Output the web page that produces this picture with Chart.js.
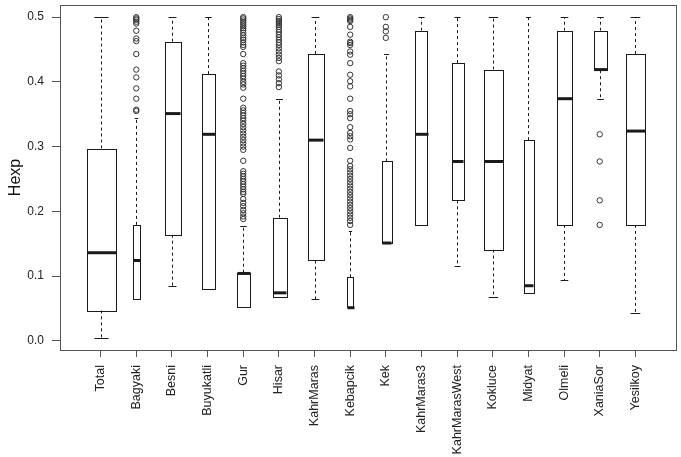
<!DOCTYPE html>
<html>
<head>
<meta charset="utf-8">
<script src="https://cdn.jsdelivr.net/npm/chart.js@4.4.0/dist/chart.umd.min.js"></script>
<style>
  html, body { margin: 0; padding: 0; background: #fff; }
</style>
</head>
<body>
<canvas id="boxchart" width="681" height="457"></canvas>
<script>
// Boxplot summary per population
var categories = ['Total', 'Bagyaki', 'Besni', 'Buyukatli', 'Gur', 'Hisar', 'KahrMaras', 'Kebapcik',
    'Kek', 'KahrMaras3', 'KahrMarasWest', 'Kokluce', 'Midyat', 'Olmeli', 'XaniaSor', 'Yesilkoy'];
var lowerWhisker = [0.004, 0.064, 0.085, 0.080, 0.053, 0.068, 0.064, 0.051, 0.151, 0.179, 0.116, 0.068, 0.073, 0.094, 0.374, 0.043];
var q1           = [0.047, 0.064, 0.164, 0.080, 0.053, 0.068, 0.124, 0.051, 0.151, 0.179, 0.217, 0.141, 0.073, 0.179, 0.418, 0.179];
var median       = [0.136, 0.124, 0.351, 0.319, 0.104, 0.074, 0.310, 0.051, 0.151, 0.319, 0.277, 0.277, 0.085, 0.374, 0.419, 0.324];
var q3           = [0.297, 0.179, 0.462, 0.412, 0.105, 0.190, 0.443, 0.098, 0.277, 0.479, 0.429, 0.419, 0.310, 0.479, 0.479, 0.443];
var upperWhisker = [0.500, 0.344, 0.500, 0.500, 0.178, 0.374, 0.500, 0.170, 0.443, 0.500, 0.500, 0.500, 0.500, 0.500, 0.500, 0.500];
// number of loci per group (box width is proportional to sqrt(n))
var sampleSize   = [1500, 100, 470, 310, 310, 360, 450, 75, 180, 280, 265, 660, 170, 430, 325, 680];

var outliers = [
    [],
    [0.500, 0.498, 0.496, 0.493, 0.490, 0.479, 0.467, 0.463, 0.443, 0.419, 0.407, 0.390, 0.374, 0.357, 0.355],
    [],
    [],
    [0.500, 0.498, 0.495, 0.492, 0.489, 0.486, 0.483, 0.480, 0.476, 0.472, 0.468, 0.465, 0.461, 0.457, 0.454,
     0.443, 0.429, 0.425, 0.421, 0.417, 0.413, 0.409, 0.405, 0.400, 0.396, 0.391, 0.374,
     0.360, 0.356, 0.352, 0.348, 0.344, 0.340, 0.335, 0.330, 0.325, 0.320, 0.315, 0.310, 0.305, 0.300, 0.295,
     0.278, 0.262, 0.258, 0.254, 0.250, 0.246, 0.242, 0.238, 0.234, 0.230, 0.227,
     0.219, 0.213, 0.208, 0.202, 0.197, 0.192, 0.188],
    [0.500, 0.497, 0.494, 0.491, 0.488, 0.485, 0.481, 0.477, 0.473, 0.469, 0.465, 0.461, 0.457, 0.452, 0.447,
     0.442, 0.437, 0.432, 0.416, 0.410, 0.404, 0.398, 0.392],
    [],
    [0.500, 0.498, 0.496, 0.494, 0.485, 0.473, 0.462, 0.460, 0.457, 0.447, 0.442, 0.429, 0.411, 0.401, 0.393,
     0.374, 0.355, 0.350, 0.344, 0.330, 0.321, 0.316, 0.311, 0.298, 0.278,
     0.270, 0.265, 0.260, 0.255, 0.250, 0.245, 0.240, 0.235, 0.230,
     0.225, 0.220, 0.215, 0.210, 0.205, 0.200, 0.195, 0.190, 0.185, 0.179],
    [0.500, 0.485, 0.478, 0.468],
    [],
    [],
    [],
    [],
    [],
    [0.319, 0.277, 0.217, 0.179],
    []
];
var yTicks = [0.0, 0.1, 0.2, 0.3, 0.4, 0.5];

// flatten outliers into scatter points
var outlierPoints = [];
outliers.forEach(function (list, i) {
    list.forEach(function (v) { outlierPoints.push({ x: i + 1, y: v }); });
});

// draws boxes, medians, dashed whiskers and staples through the chart scales
var boxPlugin = {
    id: 'boxes',
    beforeDatasetsDraw: function (chart) {
        var ctx = chart.ctx, xs = chart.scales.x, ys = chart.scales.y;
        var unit = xs.getPixelForValue(1) - xs.getPixelForValue(0);
        var maxN = Math.max.apply(null, sampleSize);
        ctx.save();
        ctx.strokeStyle = '#1a1a1a';
        for (var i = 0; i < categories.length; i++) {
            var cx = Math.round(xs.getPixelForValue(i + 1)) + 0.5;
            var hw = 0.4 * Math.sqrt(sampleSize[i] / maxN) * unit;
            var yq1 = ys.getPixelForValue(q1[i]), yq3 = ys.getPixelForValue(q3[i]);
            var ylo = ys.getPixelForValue(lowerWhisker[i]), yhi = ys.getPixelForValue(upperWhisker[i]);
            var ymed = ys.getPixelForValue(median[i]);
            // whiskers
            ctx.lineWidth = 1;
            ctx.setLineDash([3, 3]);
            ctx.beginPath();
            ctx.moveTo(cx, yq3); ctx.lineTo(cx, yhi);
            ctx.moveTo(cx, yq1); ctx.lineTo(cx, ylo);
            ctx.stroke();
            ctx.setLineDash([]);
            // staples
            ctx.beginPath();
            ctx.moveTo(cx - hw / 2, Math.round(yhi) + 0.5); ctx.lineTo(cx + hw / 2, Math.round(yhi) + 0.5);
            if (lowerWhisker[i] < q1[i]) {
                ctx.moveTo(cx - hw / 2, Math.round(ylo) + 0.5); ctx.lineTo(cx + hw / 2, Math.round(ylo) + 0.5);
            }
            ctx.stroke();
            // box
            ctx.fillStyle = '#fff';
            ctx.fillRect(cx - hw, yq3, 2 * hw, yq1 - yq3);
            ctx.strokeRect(Math.round(cx - hw) + 0.5, Math.round(yq3) + 0.5, Math.round(2 * hw), Math.round(yq1 - yq3));
            // median
            ctx.lineWidth = 3;
            ctx.beginPath();
            ctx.moveTo(Math.round(cx - hw) + 0.5, ymed); ctx.lineTo(Math.round(cx + hw) + 0.5, ymed);
            ctx.stroke();
        }
        ctx.restore();
    },
    afterDraw: function (chart) {
        var a = chart.chartArea, ctx = chart.ctx;
        ctx.save();
        ctx.strokeStyle = '#555';
        ctx.lineWidth = 1;
        ctx.strokeRect(Math.round(a.left) + 0.5, Math.round(a.top) + 0.5,
            Math.round(a.right - a.left), Math.round(a.bottom - a.top));
        ctx.restore();
    }
};

var ctx = document.getElementById('boxchart').getContext('2d');

var myBoxChart = new Chart(ctx, {
    type: 'scatter',
    data: {
        datasets: [{
            label: 'outliers',
            data: outlierPoints,
            pointStyle: 'circle',
            pointRadius: 2.7,
            pointBorderWidth: 1,
            pointBorderColor: '#333',
            pointBackgroundColor: 'rgba(0,0,0,0)'
        }]
    },
    options: {
        responsive: false,
        animation: false,
        events: [],
        layout: { padding: { top: 3, right: 4, left: 0, bottom: 0 } },
        plugins: { legend: { display: false }, tooltip: { enabled: false } },
        scales: {
            x: {
                type: 'linear',
                min: -0.14,
                max: 17.14,
                afterBuildTicks: function (s) {
                    s.ticks = categories.map(function (c, i) { return { value: i + 1 }; });
                },
                afterFit: function (s) {
                    s.height = 107;
                    s.paddingLeft = 0;
                    s.paddingRight = 0;
                },
                ticks: {
                    autoSkip: false,
                    maxRotation: 90,
                    minRotation: 90,
                    padding: 8,
                    color: '#222',
                    font: { family: 'Liberation Sans, Arial, sans-serif', size: 12.5 },
                    callback: function (v) { return categories[v - 1]; }
                },
                grid: { drawOnChartArea: false, drawTicks: true, tickLength: 7, color: '#555' },
                border: { display: false }
            },
            y: {
                min: -0.0143,
                max: 0.5188,
                afterBuildTicks: function (s) {
                    s.ticks = yTicks.map(function (v) { return { value: v }; });
                },
                afterFit: function (s) {
                    s.width = 60;
                    s.paddingTop = 0;
                    s.paddingBottom = 0;
                },
                ticks: {
                    padding: 8,
                    color: '#222',
                    font: { family: 'Liberation Sans, Arial, sans-serif', size: 12 },
                    callback: function (v) { return v.toFixed(1); }
                },
                grid: { drawOnChartArea: false, drawTicks: true, tickLength: 8, color: '#555' },
                border: { display: false },
                title: {
                    display: true,
                    text: 'Hexp',
                    color: '#111',
                    padding: { top: 6, bottom: 0 },
                    font: { family: 'Liberation Sans, Arial, sans-serif', size: 16 }
                }
            }
        }
    },
    plugins: [boxPlugin]
});
</script>
</body>
</html>
